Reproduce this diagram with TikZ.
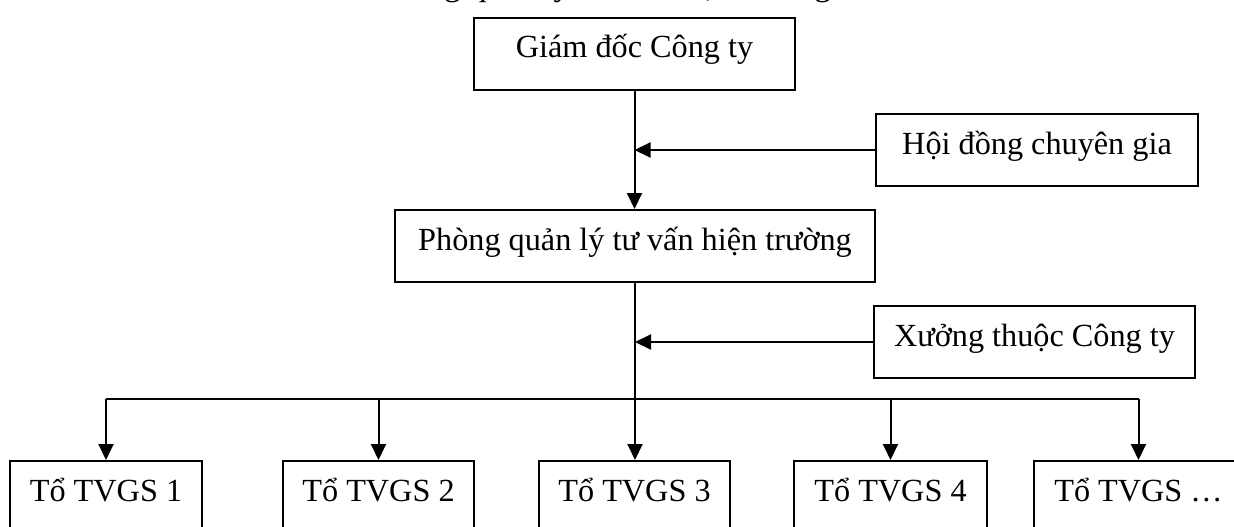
\documentclass[tikz,border=0pt]{standalone}
\usepackage{fontspec}
\setmainfont{Liberation Serif}
\usetikzlibrary{arrows.meta}
\tikzset{
  box/.style={draw, line width=2pt, inner sep=0pt, anchor=north,
    text height=40pt, text depth=32pt,
    font=\fontsize{32.25pt}{38pt}\selectfont},
  link/.style={line width=2pt},
  arr/.style={line width=2pt, -{Triangle[length=16pt,width=15pt]}},
}
\begin{document}
\begin{tikzpicture}[x=1pt,y=-1pt]
\useasboundingbox (0,0) rectangle (1234,527);
\clip (0,0) rectangle (1234,527);
\fill[white] (0,0) rectangle (1234,527);
% cut-off title line (only its descenders show)
\node[anchor=base east, inner sep=0pt, font=\fontsize{34pt}{40pt}\selectfont] (title) at (831.5,-4.5) {Sơ đồ tổ chức trong quản lý tư vấn hiện trường};
% boxes
\node[box, minimum width=321pt] (gd) at (634.5,17) {Giám đốc Công ty};
\node[box, minimum width=322pt] (hd) at (1037,113) {Hội đồng chuyên gia};
\node[box, minimum width=480pt] (pq) at (635,209) {Phòng quản lý tư vấn hiện trường};
\node[box, minimum width=321pt] (xg) at (1034.5,305) {Xưởng thuộc Công ty};
\node[box, minimum width=192pt] (t1) at (106,460) {Tổ TVGS 1};
\node[box, minimum width=191pt] (t2) at (378.5,460) {Tổ TVGS 2};
\node[box, minimum width=191pt] (t3) at (634.5,460) {Tổ TVGS 3};
\node[box, minimum width=193pt] (t4) at (890.5,460) {Tổ TVGS 4};
\node[box, minimum width=209pt] (t5) at (1138.5,460) {Tổ TVGS …};
\coordinate (bus) at (634.5,399);
% connectors
\draw[arr] (gd.south) -- (gd.south |- pq.north);
\draw[arr] (hd.west) -- (hd.west -| gd.south);
\draw[arr] (pq.south) -- (pq.south |- t3.north);
\draw[arr] (xg.west) -- (xg.west -| pq.south);
\draw[link] (t1.north |- bus) -- (t5.north |- bus);
\foreach \t in {t1,t2,t4,t5} \draw[arr] (\t.north |- bus) -- (\t.north);
\end{tikzpicture}
\end{document}
